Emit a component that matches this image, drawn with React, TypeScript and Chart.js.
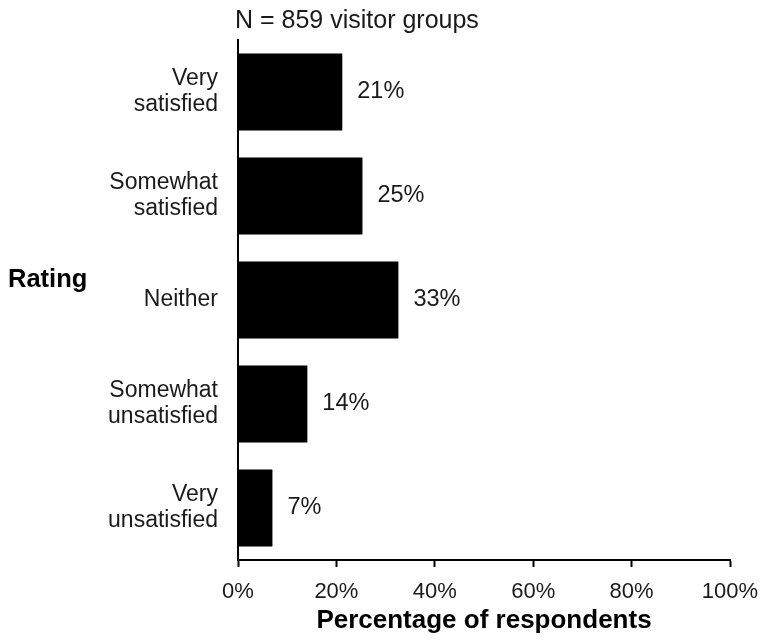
import React, { useEffect, useRef } from "react";
import { Chart, registerables } from "chart.js";

Chart.register(...registerables);

const categories: string[][] = [
  ["Very", "satisfied"],
  ["Somewhat", "satisfied"],
  ["Neither"],
  ["Somewhat", "unsatisfied"],
  ["Very", "unsatisfied"],
];
const percentages: number[] = [21.2, 25.3, 32.6, 14.1, 7.0];
const valueLabels: string[] = ["21%", "25%", "33%", "14%", "7%"];
const xTicks: number[] = [0, 20, 40, 60, 80, 100];
const titleText = "N = 859 visitor groups";
const yTitleText = "Rating";
const xTitleText = "Percentage of respondents";

const FONT = "'Liberation Sans', Arial, sans-serif";

const textPlugin = {
  id: "textPlugin",
  afterDatasetsDraw(chart: any) {
    const ctx = chart.ctx;
    const meta = chart.getDatasetMeta(0);
    ctx.save();
    ctx.fillStyle = "#1a1a1a";
    ctx.font = `23.5px ${FONT}`;
    ctx.textAlign = "left";
    ctx.textBaseline = "middle";
    meta.data.forEach((bar: any, i: number) => {
      ctx.fillText(valueLabels[i], bar.x + 15, bar.y);
    });
    // top title
    ctx.font = `25px ${FONT}`;
    ctx.fillText(titleText, chart.chartArea.left - 3, 21);
    // y title (horizontal)
    ctx.font = `bold 25.5px ${FONT}`;
    ctx.fillStyle = "#000";
    ctx.fillText(yTitleText, 8, 280);
    ctx.restore();
  },
};

export default function App() {
  const ref = useRef<HTMLCanvasElement>(null);
  useEffect(() => {
    document.body.style.margin = "0";
    const chart = new Chart(ref.current!, {
      type: "bar",
      data: {
        labels: categories,
        datasets: [
          {
            data: percentages,
            backgroundColor: "#000",
            borderWidth: 0,
            barPercentage: 0.74,
            categoryPercentage: 1,
          },
        ],
      },
      options: {
        indexAxis: "y",
        animation: false,
        responsive: false,
        maintainAspectRatio: false,
        layout: { padding: { top: 40, right: 32, left: 0, bottom: 0 } },
        plugins: {
          legend: { display: false },
          tooltip: { enabled: false },
          title: { display: false },
        },
        scales: {
          x: {
            type: "linear",
            min: 0,
            max: 100,
            afterBuildTicks: (scale: any) => {
              scale.ticks = xTicks.map((v) => ({ value: v }));
            },
            afterFit: (scale: any) => {
              scale.height = 81;
              scale.paddingLeft = 0;
              scale.paddingRight = 0;
            },
            ticks: {
              callback: (v: any) => v + "%",
              color: "#1a1a1a",
              font: { family: FONT, size: 22 },
              padding: 12,
              maxRotation: 0,
            },
            grid: {
              display: true,
              drawOnChartArea: false,
              drawTicks: true,
              tickLength: 7,
              tickWidth: 2,
              color: "#000",
            },
            border: { display: true, color: "#000", width: 2 },
            title: {
              display: true,
              text: xTitleText,
              color: "#000",
              font: { family: FONT, size: 26, weight: "bold" },
              padding: { top: 0, bottom: 5 },
            },
          },
          y: {
            type: "category",
            afterFit: (scale: any) => {
              scale.width = 238;
              scale.paddingTop = 0;
              scale.paddingBottom = 0;
            },
            ticks: {
              color: "#1a1a1a",
              font: { family: FONT, size: 23, lineHeight: 1.12 },
              padding: 20,
            },
            grid: {
              display: true,
              drawOnChartArea: false,
              drawTicks: false,
              color: "#000",
            },
            border: { display: true, color: "#000", width: 2 },
          },
        },
      },
      plugins: [textPlugin],
    });
    return () => chart.destroy();
  }, []);
  return (
    <div style={{ width: 762, height: 641, background: "#fff" }}>
      <canvas ref={ref} width={762} height={641} style={{ display: "block" }} />
    </div>
  );
}
